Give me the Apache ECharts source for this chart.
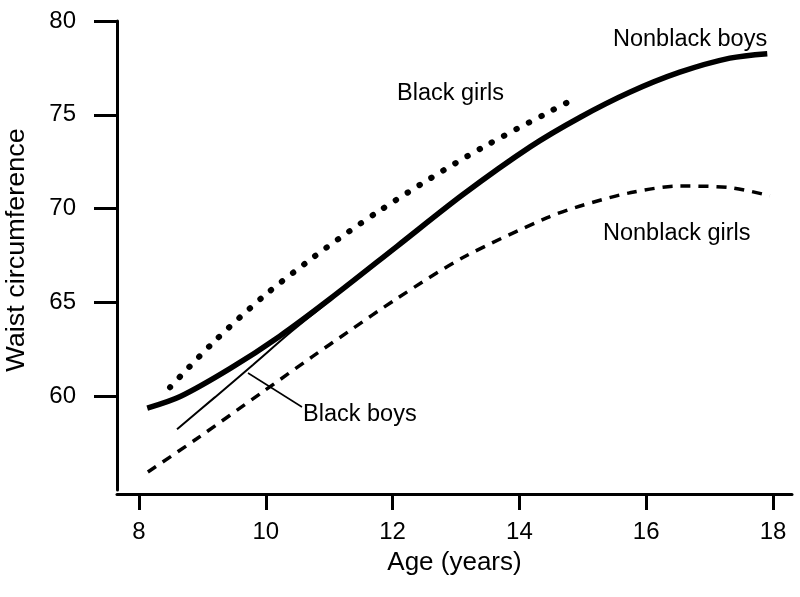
<!DOCTYPE html>
<html>
<head>
<meta charset="utf-8">
<script src="https://cdn.jsdelivr.net/npm/echarts@6/dist/echarts.min.js"></script>
<style>html,body{margin:0;padding:0;background:#fff}#c{width:800px;height:597px}</style>
</head>
<body>
<div id="c"></div>
<script>
var xTicks = [8, 10, 12, 14, 16, 18];
var yTicks = [60, 65, 70, 75, 80];

var ageNonblackBoys = [8.13, 8.65, 9.44, 10.22, 11.01, 12.07, 13.11, 14.17, 14.96, 15.74, 16.53, 17.32, 17.91];
var waistNonblackBoys = [59.36, 59.98, 61.48, 63.2, 65.18, 67.99, 70.75, 73.29, 74.87, 76.2, 77.27, 78.02, 78.26];

var ageBlackGirls = [8.49, 9.17, 9.96, 10.74, 11.30, 11.80, 12.59, 13.43, 14.44, 14.92];
var waistBlackGirls = [60.48, 62.86, 65.31, 67.38, 68.75, 69.9, 71.6, 73.28, 75.1, 75.94];

var ageBlackBoys = [8.6, 9.2, 9.8, 10.4, 10.9, 11.5, 12.5, 13.5, 14.5, 14.95];
var waistBlackBoys = [58.24, 59.95, 61.68, 63.43, 64.8, 66.5, 69.2, 71.75, 74.0, 74.9];

var ageNonblackGirls = [8.14, 8.91, 9.96, 10.74, 11.28, 12.07, 13.11, 14.44, 14.96, 15.74, 16.53, 17.32, 17.95];
var waistNonblackGirls = [55.96, 57.73, 60.25, 62.12, 63.39, 65.21, 67.39, 69.52, 70.14, 70.84, 71.2, 71.12, 70.68];

function pairs(a, b) { return a.map(function (v, i) { return [v, b[i]]; }); }

var FONT = 'Liberation Sans, Arial, sans-serif';
var chart = echarts.init(document.getElementById('c'), null, { renderer: 'canvas' });

function txt(text, x, y) {
  return { type: 'text', x: x, y: y, style: { text: text, fill: '#000', font: '23.5px ' + FONT, textAlign: 'left', textVerticalAlign: 'middle' } };
}

chart.setOption({
  animation: false,
  backgroundColor: '#fff',
  grid: { left: 117, right: 8, top: 21, bottom: 107 },
  xAxis: {
    type: 'value', min: 7.653, max: 18.30, offset: 4,
    name: 'Age (years)', nameLocation: 'middle', nameGap: 56,
    nameTextStyle: { fontFamily: FONT, fontSize: 26, color: '#000' },
    axisLine: { show: true, lineStyle: { color: '#000', width: 3 } },
    axisTick: { show: true, length: 16, lineStyle: { color: '#000', width: 3 }, customValues: xTicks },
    axisLabel: { fontFamily: FONT, fontSize: 24, color: '#000', margin: 26, customValues: xTicks },
    splitLine: { show: false }
  },
  yAxis: {
    type: 'value', min: 55, max: 80,
    axisLine: { show: true, lineStyle: { color: '#000', width: 3 } },
    axisTick: { show: true, length: 23, lineStyle: { color: '#000', width: 3 }, customValues: yTicks },
    axisLabel: { fontFamily: FONT, fontSize: 24, color: '#000', margin: 41, customValues: yTicks },
    splitLine: { show: false }
  },
  series: [
    { name: 'Nonblack girls', type: 'line', data: pairs(ageNonblackGirls, waistNonblackGirls), smooth: 0.3, showSymbol: false,
      lineStyle: { color: '#000', width: 3.5, type: [10, 8] } },
    { name: 'Black girls', type: 'line', data: pairs(ageBlackGirls, waistBlackGirls), smooth: 0.3, showSymbol: false,
      lineStyle: { color: '#000', width: 6, type: [0.5, 13.5], cap: 'round' } },
    { name: 'Nonblack boys', type: 'line', data: pairs(ageNonblackBoys, waistNonblackBoys), smooth: 0.3, showSymbol: false,
      lineStyle: { color: '#000', width: 5.5 } },
    { name: 'Black boys', type: 'line', data: pairs(ageBlackBoys, waistBlackBoys), smooth: 0.3, showSymbol: false,
      lineStyle: { color: '#000', width: 2 } }
  ],
  graphic: [
    { type: 'text', x: 17, y: 250, rotation: Math.PI / 2, scaleX: 1.08,
      style: { text: 'Waist circumference', fill: '#000', font: '25px ' + FONT, textAlign: 'center', textVerticalAlign: 'middle' } },
    txt('Black girls', 397, 94),
    txt('Nonblack boys', 613, 40),
    txt('Nonblack girls', 603, 234),
    txt('Black boys', 303, 415),
    { type: 'line', shape: { x1: 248, y1: 373, x2: 302, y2: 407 }, style: { stroke: '#000', lineWidth: 1.5 } }
  ]
});
</script>
</body>
</html>
